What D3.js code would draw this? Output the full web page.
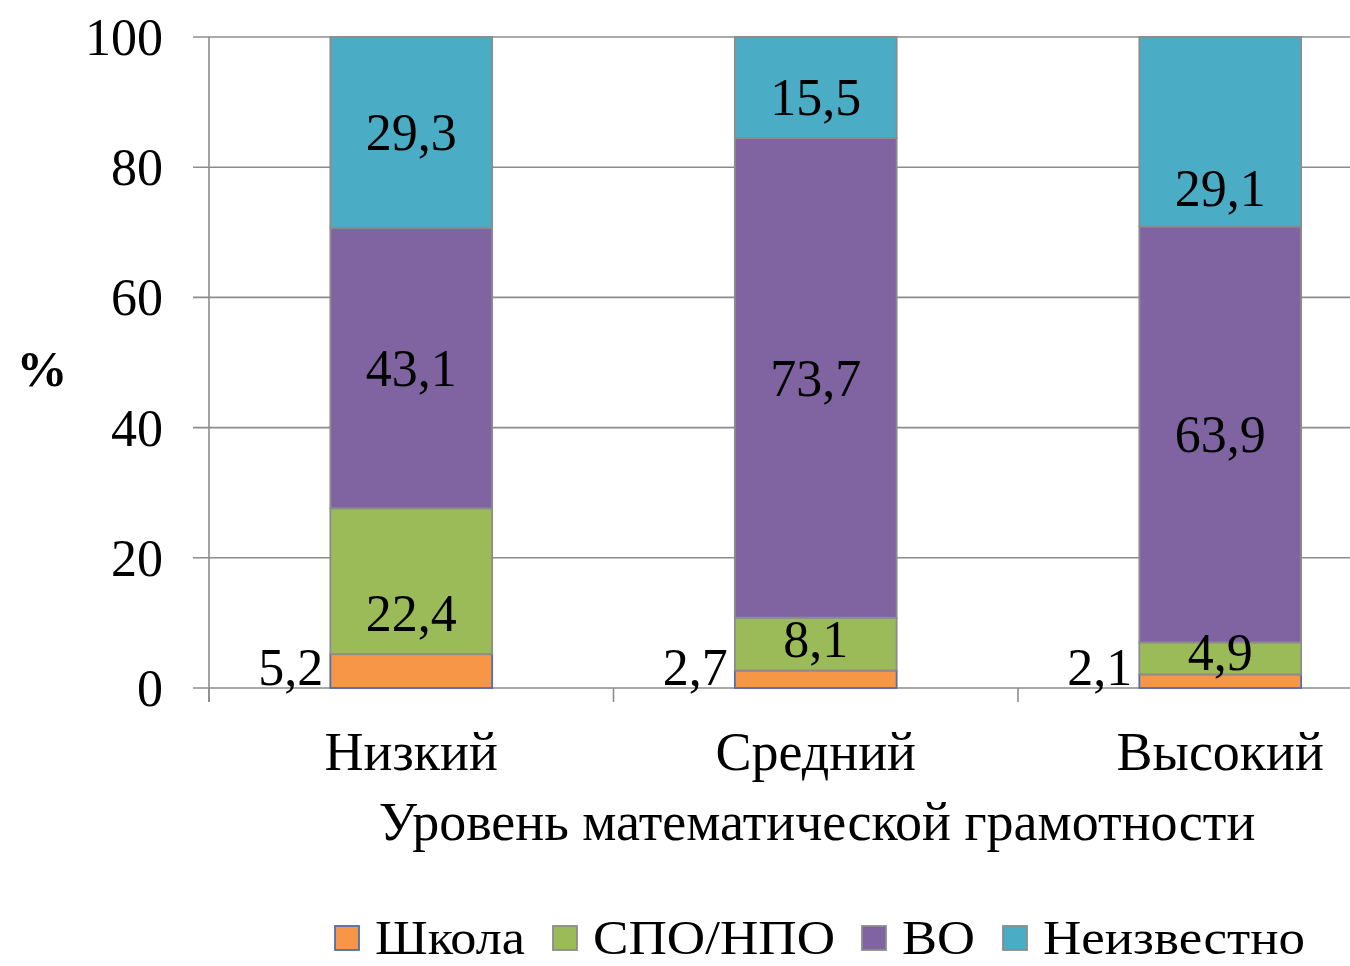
<!DOCTYPE html>
<html>
<head>
<meta charset="utf-8">
<script src="https://cdn.jsdelivr.net/npm/d3@7"></script>
<style>
  body { margin: 0; background: #fff; }
  svg text { font-family: "Liberation Serif", "Times New Roman", serif; fill: #000; }
</style>
</head>
<body>
<div id="chart"></div>
<script>
// data
const categories = ["Низкий", "Средний", "Высокий"];
const seriesNames = ["Школа", "СПО/НПО", "ВО", "Неизвестно"];
const school   = [5.2, 2.7, 2.1];
const spo      = [22.4, 8.1, 4.9];
const vo       = [43.1, 73.7, 63.9];
const unknown  = [29.3, 15.5, 29.1];
const yTicks = [0, 20, 40, 60, 80, 100];

const colors = ["#F79646", "#9BBB59", "#8064A2", "#4BACC6"];
const strokes = ["#4F6FA8", "#8C8C8C", "#8C8C8C", "#8C8C8C"];

// label tweaks (px) - some labels in the original were moved by hand
const labelNudge = {"0-1": 32, "1-1": -5, "1-3": 10, "2-3": 56, "2-1": -6};

const width = 1350, height = 966;
const plot = {left: 209, right: 1422.5, top: 37, bottom: 688};

const svg = d3.select("#chart").append("svg")
    .attr("width", width)
    .attr("height", height);

const x = d3.scaleBand()
  .domain(categories)
  .range([plot.left, plot.right])
  .paddingInner(0.6)
  .paddingOuter(0.3);

const y = d3.scaleLinear()
  .domain([0, 100])
  .range([plot.bottom, plot.top]);

// grid lines + y ticks
svg.append("g")
  .selectAll("line")
  .data(yTicks)
  .join("line")
    .attr("x1", plot.left - 16)
    .attr("x2", plot.right)
    .attr("y1", d => y(d))
    .attr("y2", d => y(d))
    .attr("stroke", "#8C8C8C")
    .attr("stroke-width", 1.6);

// y axis line
svg.append("line")
  .attr("x1", plot.left).attr("x2", plot.left)
  .attr("y1", plot.top).attr("y2", plot.bottom + 14)
  .attr("stroke", "#8C8C8C").attr("stroke-width", 1.6);

// x ticks between categories
const xTickPos = [0, 1, 2, 3].map(i => plot.left + i * x.step());
svg.append("g")
  .selectAll("line")
  .data(xTickPos)
  .join("line")
    .attr("x1", d => d).attr("x2", d => d)
    .attr("y1", plot.bottom).attr("y2", plot.bottom + 14)
    .attr("stroke", "#8C8C8C").attr("stroke-width", 1.6);

// y tick labels
svg.append("g")
  .selectAll("text")
  .data(yTicks)
  .join("text")
    .attr("x", 163)
    .attr("y", d => y(d) + 18)
    .attr("text-anchor", "end")
    .attr("font-size", 52)
    .text(d => d);

// stacked data
const rows = categories.map((c, i) => ({
  cat: c, v: [school[i], spo[i], vo[i], unknown[i]]
}));
const stack = d3.stack().keys([0, 1, 2, 3]).value((d, k) => d.v[k]);
const layers = stack(rows);

const layerG = svg.append("g")
  .selectAll("g")
  .data(layers)
  .join("g")
    .attr("fill", (d, i) => colors[i])
    .attr("stroke", (d, i) => strokes[i]);

layerG.selectAll("rect")
  .data(d => d)
  .join("rect")
    .attr("x", d => x(d.data.cat))
    .attr("width", x.bandwidth())
    .attr("y", d => y(d[1]))
    .attr("height", d => y(d[0]) - y(d[1]))
    .attr("stroke-width", 1.8);

// value labels
const fmt = v => String(v).replace(".", ",");
layers.forEach((layer, si) => {
  layer.forEach((d, ci) => {
    const val = d.data.v[si];
    let tx, ty, anchor;
    if (si === 0) {
      // school labels sit left of the bar
      tx = x(d.data.cat) - 7;
      ty = y(0) - 3;
      anchor = "end";
    } else {
      tx = x(d.data.cat) + x.bandwidth() / 2;
      ty = (y(d[0]) + y(d[1])) / 2 + 18 + (labelNudge[ci + "-" + si] || 0);
      anchor = "middle";
    }
    svg.append("text")
      .attr("x", tx)
      .attr("y", ty)
      .attr("text-anchor", anchor)
      .attr("font-size", 52)
      .text(fmt(val));
  });
});

// category labels
svg.append("g")
  .selectAll("text")
  .data(categories)
  .join("text")
    .attr("x", d => x(d) + x.bandwidth() / 2)
    .attr("y", 770)
    .attr("text-anchor", "middle")
    .attr("font-size", 54)
    .text(d => d);

// axis titles
svg.append("text")
  .attr("x", 817).attr("y", 840)
  .attr("text-anchor", "middle")
  .attr("font-size", 54)
  .text("Уровень математической грамотности");

svg.append("text")
  .attr("x", 42).attr("y", 386)
  .attr("text-anchor", "middle")
  .attr("font-size", 51)
  .attr("font-weight", "bold")
  .text("%");

// legend
const legendX = [335, 553, 862, 1003];
const legendW = [150, 242, 73, 262];
const legend = svg.append("g")
  .selectAll("g")
  .data(seriesNames)
  .join("g")
    .attr("transform", (d, i) => `translate(${legendX[i]}, 926)`);

legend.append("rect")
  .attr("width", 24).attr("height", 24)
  .attr("fill", (d, i) => colors[i])
  .attr("stroke", (d, i) => strokes[i])
  .attr("stroke-width", 1.8);

legend.append("text")
  .attr("x", 40)
  .attr("y", 28)
  .attr("font-size", 48)
  .attr("textLength", (d, i) => legendW[i])
  .attr("lengthAdjust", "spacingAndGlyphs")
  .text(d => d);
</script>
</body>
</html>
